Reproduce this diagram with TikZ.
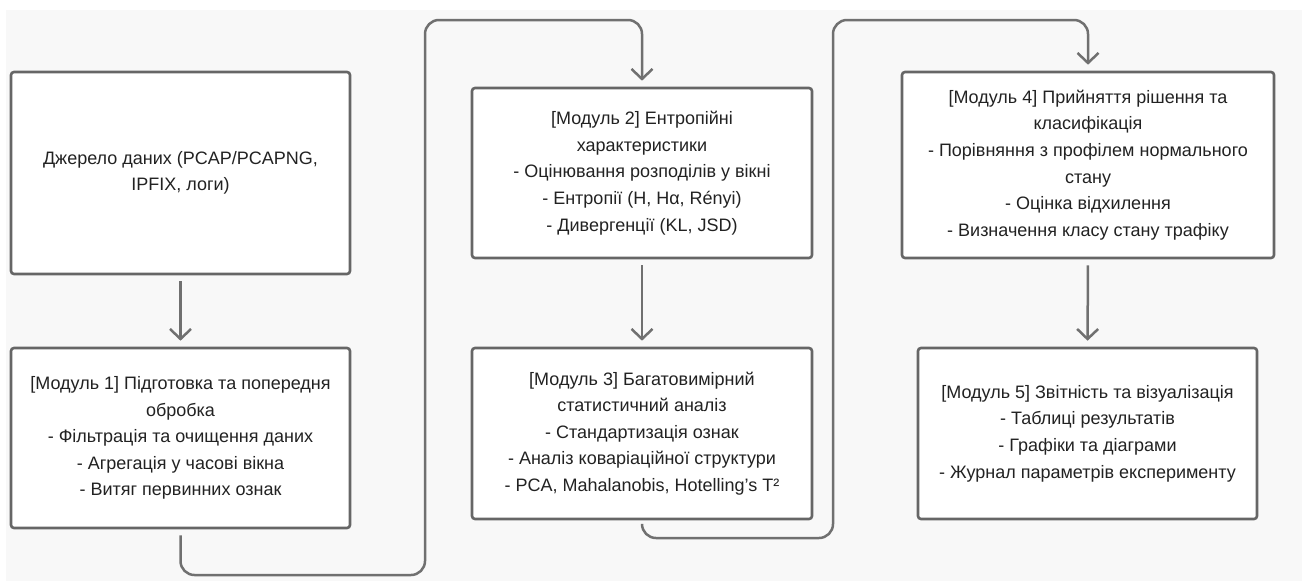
\documentclass[tikz,border=0pt]{standalone}
\usepackage{fontspec}
\setmainfont{Liberation Sans}
\usetikzlibrary{arrows.meta}
\definecolor{bgc}{HTML}{F8F8F8}
\definecolor{edgec}{HTML}{666666}
\definecolor{linec}{HTML}{707070}
\definecolor{txtc}{HTML}{222222}
\tikzset{
  box/.style={draw=edgec, line width=2.6pt, fill=white, rounded corners=3pt,
    inner sep=0pt, align=center, text=txtc,
    font=\fontsize{18}{26.6}\selectfont},
  conn/.style={draw=linec, line width=2.5pt, rounded corners=14pt,
    -{Straight Barb[length=10pt,width=21pt,line width=2.5pt]},
    shorten <=6pt, shorten >=6pt},
}
\begin{document}
\begin{tikzpicture}[x=1pt,y=-1pt]
\useasboundingbox (0,0) rectangle (1306,581);
\fill[bgc] (6,10) rectangle (1302,581);

\node[box, minimum width=339pt, minimum height=202pt] (b0) at (180.5,173)
  {Джерело даних (PCAP/PCAPNG,\\IPFIX, логи)};
\node[box, minimum width=339pt, minimum height=180pt] (b1) at (180.5,438)
  {[Модуль 1] Підготовка та попередня\\обробка\\- Фільтрація та очищення даних\\- Агрегація у часові вікна\\- Витяг первинних ознак};
\node[box, minimum width=340pt, minimum height=170pt] (b2) at (642,173)
  {[Модуль 2] Ентропійні\\характеристики\\- Оцінювання розподілів у вікні\\- Ентропії (H, Hα, Rényi)\\- Дивергенції (KL, JSD)};
\node[box, minimum width=340pt, minimum height=171pt] (b3) at (642,433.5)
  {[Модуль 3] Багатовимірний\\статистичний аналіз\\- Стандартизація ознак\\- Аналіз коваріаційної структури\\- PCA, Mahalanobis, Hotelling’s T²};
\node[box, minimum width=372pt, minimum height=186pt] (b4) at (1088,165)
  {[Модуль 4] Прийняття рішення та\\класифікація\\- Порівняння з профілем нормального\\стану\\- Оцінка відхилення\\- Визначення класу стану трафіку};
\node[box, minimum width=339pt, minimum height=171pt] (b5) at (1087.5,433.5)
  {[Модуль 5] Звітність та візуалізація\\- Таблиці результатів\\- Графіки та діаграми\\- Журнал параметрів експерименту};

\coordinate (c1) at (425,575);
\coordinate (c2) at (425,20);
\coordinate (c3) at (833,538);
\coordinate (c4) at (833,20);

\draw[conn] (b0.south) -- (b1.north);
\draw[conn] (b1.south) |- (c1) -- (c2) -| (b2.north);
\draw[conn] (b2.south) -- (b3.north);
\draw[conn] (b3.south) |- (c3) -- (c4) -| (b4.north);
\draw[conn] (b4.south) -- (b5.north);
\end{tikzpicture}
\end{document}
